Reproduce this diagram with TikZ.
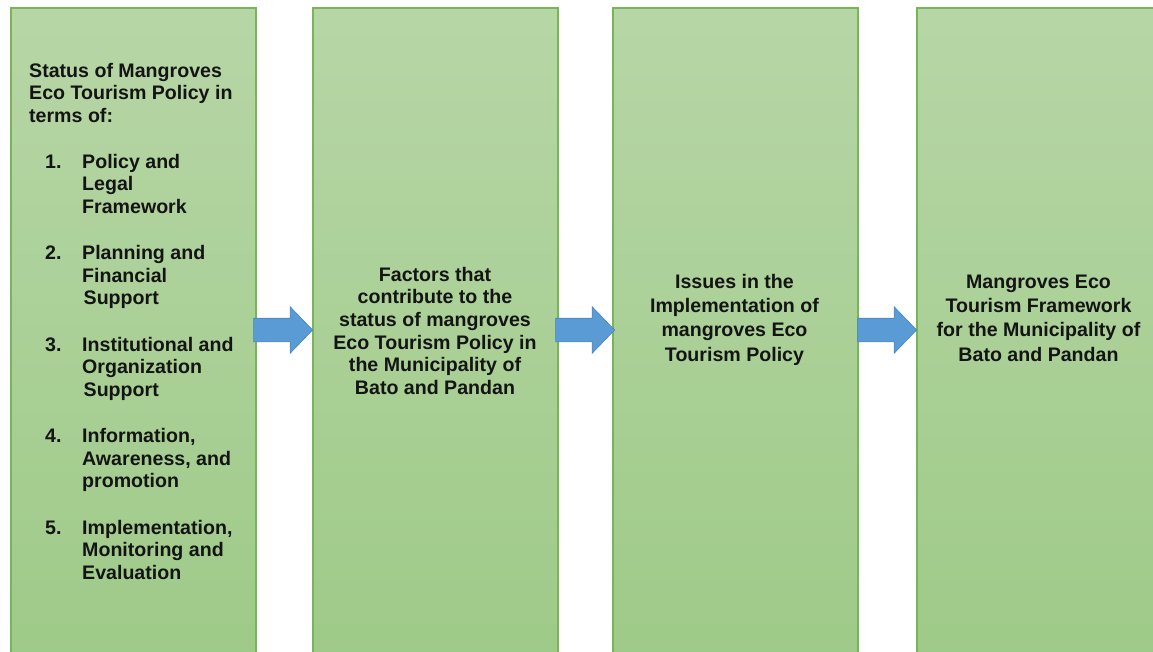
\documentclass[tikz,border=0pt]{standalone}
\usepackage{fontspec}
\setmainfont{Liberation Sans}
\usetikzlibrary{shapes.arrows,calc}
\definecolor{boxtop}{RGB}{183,214,166}
\definecolor{boxbot}{RGB}{158,202,136}
\definecolor{boxedge}{RGB}{120,181,86}
\definecolor{arrowfill}{RGB}{91,155,213}
\definecolor{arrowedge}{RGB}{72,132,192}
\definecolor{ink}{RGB}{20,20,20}
\begin{document}
\begin{tikzpicture}[x=1pt,y=-1pt,
  stagebox/.style={draw=boxedge, line width=1.8pt, top color=boxtop, bottom color=boxbot,
    rectangle, inner sep=0pt, anchor=north west, minimum width=245pt, minimum height=655pt},
  flowarrow/.style={single arrow, fill=arrowfill, draw=arrowedge, line width=0.6pt,
    inner sep=11.5pt, single arrow head extend=11.5pt, minimum height=59pt, single arrow tip angle=92, anchor=tip},
  txta/.style={font=\bfseries\fontsize{19.6}{22.6}\selectfont, inner sep=0pt, text=ink},
  txtb/.style={font=\bfseries\fontsize{19.6}{24.3}\selectfont, inner sep=0pt, text=ink},
  itemtxt/.style={txta, anchor=north west, align=left},
  itemnum/.style={txta, anchor=base west}]
\useasboundingbox (0,0) rectangle (1153,651);
\clip (0,0) rectangle (1153,651);
\fill[white] (0,0) rectangle (1153,651);
% boxes
\node[stagebox] (b1) at (10,7) {};
\node[stagebox] (b2) at (312,7) {};
\node[stagebox] (b3) at (612,7) {};
\node[stagebox, minimum width=246pt] (b4) at (916,7) {};
% arrows (tip touching the next box)
\node[flowarrow] (a1) at ($(b2.north west)+(1,323)$) {};
\node[flowarrow] (a2) at ($(b3.north west)+(3,323)$) {};
\node[flowarrow] (a3) at ($(b4.north west)+(1,323)$) {};
% box 1 text
\node[itemtxt] (head) at (29,61.2) {\strut Status of Mangroves\\Eco Tourism Policy in\\terms of:};
\node[itemnum] (n1) at (45,168) {1.};
\node[itemtxt] (i1) at (82,152.2) {\strut Policy and\\Legal\\Framework};
\node[itemnum] (n2) at (45,259.5) {2.};
\node[itemtxt] (i2) at (82,243.7) {\strut Planning and\\Financial\\\hspace{1.5pt}Support};
\node[itemnum] (n3) at (45,351) {3.};
\node[itemtxt] (i3) at (82,335.2) {\strut Institutional and\\Organization\\\hspace{1.5pt}Support};
\node[itemnum] (n4) at (45,442.5) {4.};
\node[itemtxt] (i4) at (82,426.7) {\strut Information,\\Awareness, and\\promotion};
\node[itemnum] (n5) at (45,534) {5.};
\node[itemtxt] (i5) at (82,518.2) {\strut Implementation,\\Monitoring and\\Evaluation};
% box 2 text
\node[txta, anchor=north, align=center] (t2) at (435,265.2) {\strut Factors that\\contribute to the\\status of mangroves\\Eco Tourism Policy in\\the Municipality of\\Bato and Pandan};
% box 3 text
\node[txtb, anchor=north, align=center] (t3) at (734.5,271) {\strut Issues in the\\Implementation of\\mangroves Eco\\Tourism Policy};
% box 4 text
\node[txtb, anchor=north, align=center] (t4) at (1038.5,271) {\strut Mangroves Eco\\Tourism Framework\\for the Municipality of\\Bato and Pandan};
\end{tikzpicture}
\end{document}
